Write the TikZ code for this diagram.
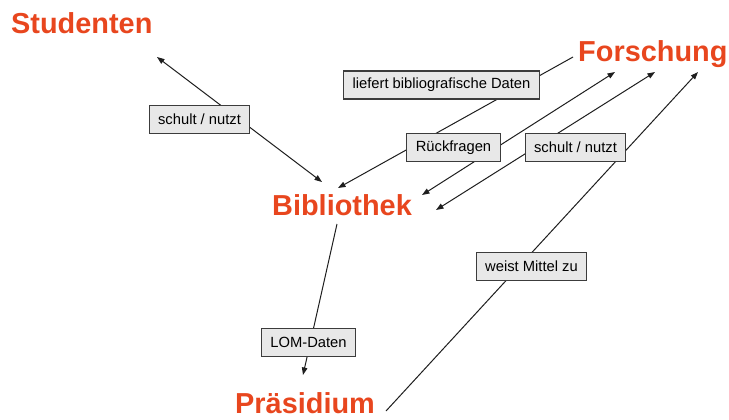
\documentclass[tikz,border=0pt]{standalone}
\usepackage{fontspec}
\setmainfont{Liberation Sans}
\usetikzlibrary{arrows.meta}
\definecolor{actor}{RGB}{232,70,30}
\definecolor{boxfill}{RGB}{232,232,232}
\definecolor{boxline}{RGB}{60,60,60}
\definecolor{conn}{RGB}{30,30,30}
\tikzset{
  actorlabel/.style={inner sep=0pt, anchor=base west, text=actor, font=\fontsize{29}{32}\selectfont\bfseries},
  labelbox/.style={draw=boxline, line width=1.1bp, fill=boxfill, inner xsep=9bp, inner ysep=0pt, minimum height=28bp, font=\fontsize{14.8}{16}\selectfont},
  link/.style={draw=conn, line width=1bp},
  tip/.tip={Triangle[length=7.5bp,width=5.5bp]}
}
\begin{document}
\begin{tikzpicture}[x=1bp,y=-1bp]
\useasboundingbox (0,0) rectangle (729,419);
% actors
\node[actorlabel] (stud) at (11,33) {Studenten};
\node[actorlabel] (forsch) at (578,61) {Forschung};
\node[actorlabel] (bib) at (272,215) {Bibliothek};
\node[actorlabel] (praes) at (235,413) {Präsidium};
% connector end points
\coordinate (a1) at (157,57);
\coordinate (a2) at (322,182);
\coordinate (b1) at (573,57);
\coordinate (b2) at (338,188);
\coordinate (c1) at (422,195);
\coordinate (c2) at (615,72);
\coordinate (d1) at (436,210);
\coordinate (d2) at (655,72);
\coordinate (e1) at (386,411);
\coordinate (e2) at (698,72);
\coordinate (f1) at (337,224);
\coordinate (f2) at (303,375);
% connectors
\draw[link, tip-tip] (a1) -- (a2);
\draw[link, -tip] (b1) -- (b2);
\draw[link, tip-tip] (c1) -- (c2);
\draw[link, tip-tip] (d1) -- (d2);
\draw[link, -tip] (e1) -- (e2);
\draw[link, -tip] (f1) -- (f2);
% labels
\node[labelbox] (l1) at (199.5,119.5) {schult / nutzt};
\node[labelbox] (l2) at (441.5,85) {liefert bibliografische Daten};
\node[labelbox] (l3) at (453.5,147.5) {Rückfragen};
\node[labelbox] (l4) at (575.5,147.5) {schult / nutzt};
\node[labelbox] (l5) at (531.5,266.5) {weist Mittel zu};
\node[labelbox] (l6) at (308.5,342.5) {LOM-Daten};
\end{tikzpicture}
\end{document}
